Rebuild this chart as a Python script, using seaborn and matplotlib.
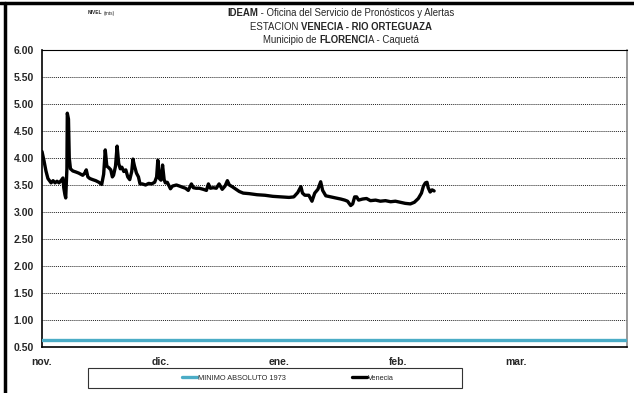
import numpy as np
import pandas as pd
import matplotlib
matplotlib.use("Agg")
import matplotlib.pyplot as plt
import seaborn as sns
from matplotlib.lines import Line2D
from matplotlib.patches import Rectangle

# --- dados (dias desde 1 nov.) ---
dias = [0.0, 0.5, 1.0, 1.5, 2.3, 2.8, 3.3, 3.8, 4.3, 4.8, 5.3, 5.5, 5.8, 6.0, 6.3, 6.4, 6.7, 6.9, 7.2,
        7.8, 8.6, 9.3, 9.8, 10.3, 10.8, 11.2, 11.6, 12.1, 12.8, 13.6, 14.4, 15.1, 15.6, 16.0, 16.4,
        16.9, 17.4, 17.8, 18.1, 18.6, 19.0, 19.4, 19.8, 20.2, 20.7, 21.2, 21.7, 22.2, 22.7, 23.0,
        23.4, 23.9, 24.4, 24.8, 25.4, 26.2, 27.0, 27.7, 28.5, 29.0, 29.3, 29.7, 30.1, 30.5, 30.9,
        31.2, 31.7, 32.5, 33.0, 34.0, 34.8, 35.5, 36.3, 37.0, 37.8, 38.3, 39.0, 39.8, 40.8, 41.6,
        42.1, 42.6, 43.3, 44.1, 44.8, 45.6, 46.3, 46.9, 47.4, 48.1, 48.9, 49.9, 50.9, 52.4, 54.4,
        56.4, 58.4, 60.5, 62.5, 63.7, 64.7, 65.5, 65.9, 66.5, 67.5, 68.3, 69.0, 69.8, 70.5, 71.0,
        71.8, 73.0, 74.3, 75.6, 76.6, 77.3, 78.1, 78.6, 79.1, 79.6, 80.1, 81.1, 82.1, 83.1, 84.4,
        85.6, 86.9, 88.2, 89.4, 90.7, 91.9, 93.2, 94.2, 95.2, 96.0, 96.5, 97.0, 97.4, 97.7, 98.2,
        98.7, 99.2]
nivel_venecia = [4.12, 3.95, 3.76, 3.62, 3.54, 3.58, 3.54, 3.57, 3.54, 3.58, 3.63, 3.45, 3.32, 3.26,
                 3.80, 4.83, 4.72, 4.00, 3.80, 3.76, 3.74, 3.72, 3.70, 3.68, 3.72, 3.78, 3.65, 3.62,
                 3.60, 3.58, 3.55, 3.51, 3.70, 4.15, 3.85, 3.82, 3.78, 3.65, 3.68, 3.85, 4.22, 3.90,
                 3.80, 3.83, 3.75, 3.78, 3.65, 3.60, 3.75, 3.98, 3.85, 3.72, 3.65, 3.52, 3.52, 3.50,
                 3.53, 3.52, 3.55, 3.65, 3.96, 3.62, 3.59, 3.87, 3.60, 3.54, 3.55, 3.43, 3.48, 3.50,
                 3.48, 3.46, 3.44, 3.40, 3.52, 3.45, 3.44, 3.44, 3.42, 3.40, 3.52, 3.44, 3.45, 3.44,
                 3.52, 3.42, 3.48, 3.58, 3.50, 3.47, 3.43, 3.38, 3.35, 3.34, 3.32, 3.31, 3.29, 3.28,
                 3.27, 3.28, 3.36, 3.47, 3.35, 3.31, 3.31, 3.20, 3.35, 3.42, 3.56, 3.40, 3.30, 3.28,
                 3.26, 3.24, 3.22, 3.20, 3.12, 3.15, 3.28, 3.28, 3.22, 3.24, 3.25, 3.21, 3.22, 3.20,
                 3.21, 3.19, 3.20, 3.18, 3.16, 3.15, 3.18, 3.25, 3.35, 3.48, 3.54, 3.55, 3.45, 3.37,
                 3.41, 3.39]
minimo_1973 = 0.63
meses_pos = [0, 30, 60, 90, 120]
meses = ['nov.', 'dic.', 'ene.', 'feb.', 'mar.']
y_ticks = [0.5, 1.0, 1.5, 2.0, 2.5, 3.0, 3.5, 4.0, 4.5, 5.0, 5.5, 6.0]

df = pd.DataFrame({'dia': dias, 'nivel': nivel_venecia})

sns.set_style('white')
plt.rcParams['font.family'] = ['Liberation Sans', 'DejaVu Sans']

W, H = 634, 393
fig = plt.figure(figsize=(W / 100, H / 100), dpi=100)
ax = fig.add_axes([42 / W, 1 - 347 / H, (627 - 42) / W, (347 - 50) / H])

ax.axhline(minimo_1973, color='#4BACC6', lw=2.4, label='MINIMO ABSOLUTO 1973', zorder=3)
sns.lineplot(data=df, x='dia', y='nivel', ax=ax, color='black', lw=2.4, label='Venecia', zorder=4)

ax.set_xlim(0, 148)
ax.set_ylim(0.5, 6.0)
ax.set_yticks(y_ticks)
ax.set_yticklabels([f'{v:.2f}' for v in y_ticks], fontweight='bold', fontsize=7.5)
ax.set_xticks(meses_pos)
ax.set_xticklabels(meses, fontweight='bold', fontsize=7.5)
ax.set_xlabel('')
ax.set_ylabel('')
ax.tick_params(axis='both', direction='out', length=4, width=0.8, color='black', pad=2)
ax.tick_params(axis='x', pad=3)
for v in y_ticks[1:]:
    ax.axhline(v, color='#222222', lw=0.7, ls=(0, (1, 1)), zorder=1)

for s in ['left', 'bottom', 'top']:
    ax.spines[s].set_color('black')
ax.spines['left'].set_linewidth(1.2)
ax.spines['bottom'].set_linewidth(1.2)
ax.spines['top'].set_linewidth(0.8)
ax.spines['right'].set_color('#888888')
ax.spines['right'].set_linewidth(1.2)

# legenda em caixa separada
handles, labels = ax.get_legend_handles_labels()
ax.get_legend().remove()
leg = fig.legend(handles, labels, loc='center', bbox_to_anchor=(288 / W, 1 - 378 / H), ncol=2,
                 frameon=False, fontsize=5.3, handlelength=2.0, handletextpad=0.2, columnspacing=9.0)
fig.add_artist(Rectangle((88 / W, 1 - 388 / H), (462 - 88) / W, 20 / H, transform=fig.transFigure,
                         fill=False, edgecolor='#333333', lw=0.8))

# moldura externa
fig.add_artist(Line2D([0, 1], [1 - 3 / H, 1 - 3 / H], transform=fig.transFigure, color='black', lw=2.5))
fig.add_artist(Line2D([5 / W, 5 / W], [0, 1 - 3 / H], transform=fig.transFigure, color='black', lw=2.5))

# título com partes em negrito
renderer = fig.canvas.get_renderer()


def linha_titulo(y, partes, size=6.9, cx=341):
    textos = [fig.text(0, 1 - y / H, s, fontweight=w, fontsize=size, va='center') for s, w in partes]
    larg = [t.get_window_extent(renderer).width for t in textos]
    x0 = cx - sum(larg) / 2
    for t, l in zip(textos, larg):
        t.set_x(x0 / W)
        x0 += l


linha_titulo(13, [('IDEAM', 'bold'), (' - Oficina del Servicio de Pronósticos y Alertas', 'normal')])
linha_titulo(27, [('ESTACION ', 'normal'), ('VENECIA - RIO ORTEGUAZA', 'bold')])
linha_titulo(40, [('Municipio de ', 'normal'), ('FLORENCI', 'bold'), ('A - Caquetá', 'normal')])

fig.text(88 / W, 1 - 13 / H, 'NIVEL', fontsize=3.5, fontweight='bold', va='center')
fig.text(104 / W, 1 - 13 / H, '(mts)', fontsize=3.5, va='center')

fig.savefig('out.png', dpi=100)
